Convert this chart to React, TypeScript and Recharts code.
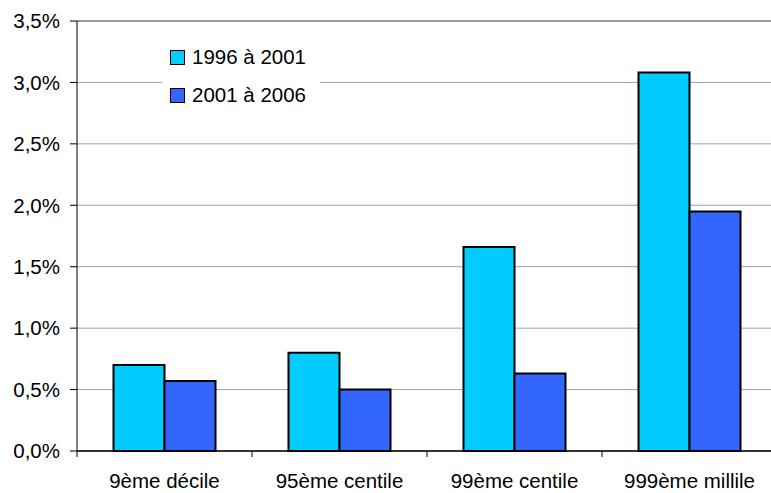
import React from 'react';
import { BarChart, Bar, XAxis, YAxis, CartesianGrid, Legend, ReferenceLine } from 'recharts';

const categories = ['9ème décile', '95ème centile', '99ème centile', '999ème millile'];
const series1996 = [0.7, 0.8, 1.66, 3.08];
const series2001 = [0.57, 0.5, 0.63, 1.95];
const seriesNames = ['1996 à 2001', '2001 à 2006'];
const seriesColors = ['#00ccff', '#3366ff'];
const yTicks = [0, 0.5, 1, 1.5, 2, 2.5, 3, 3.5];

const chartData = categories.map((name, i) => ({
  name,
  a: series1996[i],
  b: series2001[i],
}));

const FONT = '"Liberation Sans", Arial, sans-serif';
const FS = 20.5;

const formatPct = (v: number) => v.toFixed(1).replace('.', ',') + '%';

// tick mark sits on the category boundary, label in the band centre
const CategoryTick = (props: any) => {
  const { x, y, payload } = props;
  const half = payload && payload.offset ? payload.offset : 87.5;
  return (
    <g>
      <line x1={x - half} x2={x - half} y1={y} y2={y + 6} stroke="#000" strokeWidth={1} />
      <text x={x} y={y + 37} textAnchor="middle" fontSize={FS} fill="#000" fontFamily={FONT}>
        {payload.value}
      </text>
    </g>
  );
};

const renderLegend = (props: any) => {
  const items = props.payload || [];
  return (
    <div style={{ background: '#fff', paddingLeft: 8, fontFamily: FONT, fontSize: FS, color: '#000' }}>
      {items.map((item: any) => (
        <div key={item.value} style={{ height: 38, display: 'flex', alignItems: 'center' }}>
          <span
            style={{
              display: 'inline-block',
              width: 15,
              height: 15,
              boxSizing: 'border-box',
              border: '1.5px solid #000',
              background: item.color,
              marginRight: 7,
            }}
          />
          <span>{item.value}</span>
        </div>
      ))}
    </div>
  );
};

export default function App() {
  return (
    <div style={{ position: 'absolute', left: 0, top: 0, width: 771, height: 493, overflow: 'hidden', background: '#fff' }}>
      <BarChart
        width={780}
        height={493}
        data={chartData}
        margin={{ top: 21, right: 3, left: 0, bottom: 0 }}
        barCategoryGap={36.5}
        barGap={0}
      >
        <CartesianGrid horizontal vertical={false} stroke="#a0a0a0" />
        <ReferenceLine y={3.5} stroke="#888" strokeWidth={1.5} />
        <YAxis
          width={77}
          domain={[0, 3.5]}
          ticks={yTicks}
          tickFormatter={formatPct}
          interval={0}
          tickSize={7}
          tickMargin={10}
          axisLine={{ stroke: '#000' }}
          tickLine={{ stroke: '#000' }}
          tick={{ fill: '#000', fontSize: FS, fontFamily: FONT }}
        />
        <XAxis
          dataKey="name"
          height={42}
          interval={0}
          tickSize={0}
          tickMargin={0}
          tickLine={false}
          axisLine={{ stroke: '#000', strokeWidth: 1.5 }}
          tick={<CategoryTick />}
        />
        <Legend
          layout="horizontal"
          align="center"
          verticalAlign="middle"
          wrapperStyle={{ left: 162, top: 38, width: 158 }}
          content={renderLegend}
        />
        <Bar dataKey="a" name={seriesNames[0]} fill={seriesColors[0]} stroke="#000" strokeWidth={2} isAnimationActive={false} />
        <Bar dataKey="b" name={seriesNames[1]} fill={seriesColors[1]} stroke="#000" strokeWidth={2} isAnimationActive={false} />
      </BarChart>
    </div>
  );
}
